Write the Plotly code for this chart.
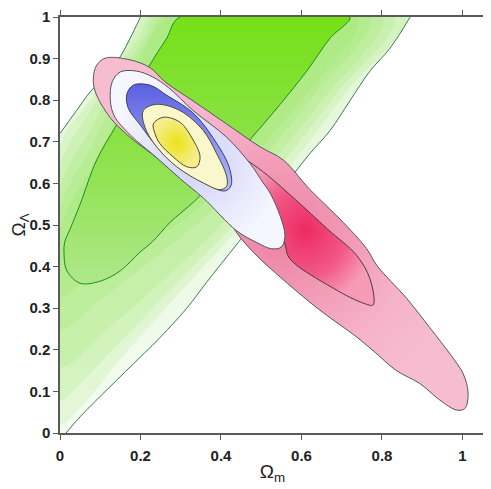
import plotly.graph_objects as go

# contour outlines: (Omega_m, Omega_Lambda)
green_left_m = [0.0, 0.041, 0.075, 0.14, 0.182, 0.2]
green_left_l = [0.72, 0.775, 0.82, 0.89, 0.964, 1.0]

green_right_m = [0.015, 0.05, 0.124, 0.199, 0.24, 0.315, 0.364, 0.443, 0.576, 0.621, 0.671, 0.72, 0.77, 0.82, 0.87]
green_right_l = [0.0, 0.039, 0.111, 0.182, 0.221, 0.3, 0.362, 0.458, 0.617, 0.672, 0.727, 0.798, 0.87, 0.925, 1.0]

green_inner_m = [0.298, 0.265, 0.22, 0.182, 0.14, 0.091, 0.05, 0.025, 0.012, 0.01, 0.017, 0.05, 0.1, 0.15,
                 0.199, 0.23, 0.273, 0.335, 0.4, 0.464, 0.547, 0.613, 0.671, 0.72]
green_inner_l = [1.0, 0.949, 0.88, 0.814, 0.74, 0.656, 0.55, 0.49, 0.46, 0.43, 0.39, 0.36, 0.365, 0.39,
                 0.435, 0.46, 0.506, 0.558, 0.625, 0.696, 0.79, 0.87, 0.949, 1.0]

# soft green shading steps (no line), estimated between the contour lines
shade_m = [
    [0.0, 0.06, 0.13, 0.19, 0.21, 0.86, 0.72, 0.57, 0.45, 0.31, 0.17, 0.05, 0.0],
    [0.0, 0.06, 0.14, 0.2, 0.225, 0.83, 0.69, 0.55, 0.43, 0.29, 0.15, 0.03, 0.0],
    [0.0, 0.07, 0.15, 0.21, 0.24, 0.8, 0.66, 0.52, 0.4, 0.27, 0.13, 0.0],
    [0.0, 0.08, 0.16, 0.22, 0.255, 0.77, 0.62, 0.49, 0.36, 0.22, 0.1, 0.0],
    [0.0, 0.09, 0.18, 0.27, 0.74, 0.59, 0.46, 0.33, 0.19, 0.07, 0.0],
]
shade_l = [
    [0.69, 0.78, 0.87, 0.97, 1.0, 1.0, 0.83, 0.64, 0.5, 0.35, 0.2, 0.06, 0.02],
    [0.64, 0.75, 0.87, 0.96, 1.0, 1.0, 0.82, 0.645, 0.5, 0.36, 0.22, 0.1, 0.08],
    [0.59, 0.72, 0.86, 0.95, 1.0, 1.0, 0.81, 0.645, 0.5, 0.38, 0.26, 0.16],
    [0.54, 0.69, 0.85, 0.95, 1.0, 1.0, 0.8, 0.645, 0.52, 0.41, 0.32, 0.25],
    [0.49, 0.66, 0.84, 1.0, 1.0, 0.79, 0.645, 0.53, 0.44, 0.37, 0.33],
]

red_outer_m = [0.083, 0.09, 0.112, 0.174, 0.224, 0.26, 0.331, 0.414, 0.497, 0.555, 0.621, 0.696, 0.762, 0.787,
               0.861, 0.919, 0.969, 1.002, 1.014, 1.006, 0.986, 0.944, 0.894, 0.836, 0.778, 0.729, 0.671, 0.62,
               0.547, 0.49, 0.44, 0.406, 0.323, 0.248, 0.174, 0.124, 0.087]
red_outer_l = [0.854, 0.882, 0.901, 0.897, 0.878, 0.845, 0.798, 0.743, 0.688, 0.656, 0.585, 0.514, 0.443, 0.403,
               0.324, 0.253, 0.19, 0.142, 0.095, 0.059, 0.055, 0.079, 0.119, 0.15, 0.198, 0.237, 0.277, 0.315,
               0.375, 0.425, 0.48, 0.537, 0.593, 0.656, 0.711, 0.759, 0.822]

red_inner_m = [0.44, 0.47, 0.515, 0.585, 0.665, 0.737, 0.77, 0.778, 0.754, 0.679, 0.571, 0.56, 0.547, 0.513, 0.472]
red_inner_l = [0.668, 0.652, 0.62, 0.561, 0.49, 0.427, 0.371, 0.308, 0.312, 0.348, 0.419, 0.45, 0.506, 0.569, 0.633]

blue_outer_m = [0.125, 0.13, 0.15, 0.19, 0.23, 0.27, 0.331, 0.414, 0.472, 0.505, 0.522, 0.547, 0.559, 0.55,
                0.525, 0.489, 0.439, 0.356, 0.3, 0.24, 0.175, 0.135]
blue_outer_l = [0.8, 0.845, 0.868, 0.87, 0.856, 0.83, 0.775, 0.711, 0.648, 0.601, 0.577, 0.522, 0.474, 0.447,
                0.443, 0.458, 0.486, 0.565, 0.61, 0.662, 0.716, 0.762]

blue_inner_m = [0.166, 0.182, 0.224, 0.265, 0.33, 0.38, 0.42, 0.425, 0.41, 0.37, 0.3, 0.24, 0.2, 0.17]
blue_inner_l = [0.814, 0.836, 0.836, 0.812, 0.77, 0.71, 0.64, 0.595, 0.582, 0.595, 0.64, 0.69, 0.74, 0.78]

yellow_outer_m = [0.207, 0.24, 0.298, 0.356, 0.389, 0.414, 0.414, 0.398, 0.356, 0.29, 0.24, 0.211]
yellow_outer_l = [0.775, 0.79, 0.775, 0.727, 0.672, 0.617, 0.593, 0.585, 0.601, 0.64, 0.688, 0.735]

yellow_inner_m = [0.232, 0.257, 0.298, 0.331, 0.348, 0.34, 0.315, 0.281, 0.248, 0.236]
yellow_inner_l = [0.743, 0.759, 0.747, 0.704, 0.664, 0.64, 0.64, 0.664, 0.696, 0.72]

x_ticks = [0, 0.2, 0.4, 0.6, 0.8, 1]
y_ticks = [0, 0.1, 0.2, 0.3, 0.4, 0.5, 0.6, 0.7, 0.8, 0.9, 1]


def closed(a):
    return list(a) + [a[0]]


fig = go.Figure()

# green band: fill between the two outer lines and the frame
band_m = [0.0] + green_right_m + green_left_m[::-1]
band_l = [0.0] + green_right_l + green_left_l[::-1]
fig.add_trace(go.Scatter(x=band_m, y=band_l, fill="toself", mode="none",
                         fillgradient=dict(type="vertical", colorscale=[[0, "#f4fbf0"], [1, "#e2f6d4"]])))
for sm, sl in zip(shade_m, shade_l):
    fig.add_trace(go.Scatter(x=closed(sm), y=closed(sl), fill="toself", mode="none", line_shape="spline",
                             fillcolor="rgba(125,222,55,0.13)"))
fig.add_trace(go.Scatter(x=closed(green_inner_m), y=closed(green_inner_l), fill="toself", mode="none",
                         line_shape="spline",
                         fillgradient=dict(type="vertical", colorscale=[[0, "#aee78a"], [0.45, "#8ee24c"], [1, "#74e014"]])))

for gm, gl, col in [(green_left_m, green_left_l, "#3c7a52"), (green_right_m, green_right_l, "#3c7a52"),
                    (closed(green_inner_m), closed(green_inner_l), "#1c8c1c")]:
    fig.add_trace(go.Scatter(x=gm, y=gl, mode="lines", line=dict(color=col, width=1, shape="spline")))

# red (2 contours)
fig.add_trace(go.Scatter(x=closed(red_outer_m), y=closed(red_outer_l), fill="toself", mode="lines",
                         line=dict(color="#55585c", width=1, shape="spline"),
                         fillgradient=dict(type="radial", colorscale=[[0, "#ee80a4"], [0.7, "#f5b2c8"], [1, "#f6bccf"]])))
fig.add_trace(go.Scatter(x=closed(red_inner_m), y=closed(red_inner_l), fill="toself", mode="lines",
                         line=dict(color="#4a3a40", width=1, shape="spline"),
                         fillgradient=dict(type="radial", colorscale=[[0, "#ee2a62"], [0.6, "#f25888"], [1, "#f69ab6"]])))

# blue
fig.add_trace(go.Scatter(x=closed(blue_outer_m), y=closed(blue_outer_l), fill="toself", mode="lines",
                         line=dict(color="#50555c", width=1, shape="spline"),
                         fillgradient=dict(type="radial", colorscale=[[0, "#cdd0f6"], [1, "#f6f6fe"]])))
fig.add_trace(go.Scatter(x=closed(blue_inner_m), y=closed(blue_inner_l), fill="toself", mode="lines",
                         line=dict(color="#3a3d60", width=1, shape="spline"),
                         fillgradient=dict(type="vertical", colorscale=[[0, "#b8bbf4"], [1, "#5a60e2"]])))

# yellow
fig.add_trace(go.Scatter(x=closed(yellow_outer_m), y=closed(yellow_outer_l), fill="toself", mode="lines",
                         line=dict(color="#4a4a40", width=1, shape="spline"), fillcolor="#fbf7cc"))
fig.add_trace(go.Scatter(x=closed(yellow_inner_m), y=closed(yellow_inner_l), fill="toself", mode="lines",
                         line=dict(color="#4a4a30", width=1, shape="spline"),
                         fillgradient=dict(type="radial", colorscale=[[0, "#ece21a"], [1, "#f5ee8c"]])))

font_family = "Liberation Sans, Arial"
axis_style = dict(showline=True, linecolor="#5a5a5a", linewidth=1.5, mirror="ticks", ticks="outside",
                  ticklen=5, tickcolor="#5a5a5a", showgrid=False, zeroline=False, automargin=False,
                  ticklabeloverflow="allow",
                  tickfont=dict(family=font_family, size=15, color="#222", weight="bold"))

fig.update_xaxes(range=[0, 1.056], tickvals=x_ticks, ticktext=[str(v) for v in x_ticks], ticklabelstandoff=3,
                 title=dict(text="Ω<sub>m</sub>", font=dict(family=font_family, size=19, color="#222"),
                            standoff=2), **axis_style)
fig.update_yaxes(range=[0, 1], tickvals=y_ticks, ticktext=["0"] + [f"{v:.1f}" for v in y_ticks[1:-1]] + ["1"],
                 title=dict(text="Ω<sub>Λ</sub>", font=dict(family=font_family, size=19, color="#222"),
                            standoff=6), **axis_style)

# the page body adds an 8 px margin, so the figure is 8 px smaller than the window
fig.update_layout(width=483, height=481, showlegend=False, plot_bgcolor="white", paper_bgcolor="white",
                  margin=dict(l=52, r=6, t=9, b=56))

fig.write_html("out.html")
